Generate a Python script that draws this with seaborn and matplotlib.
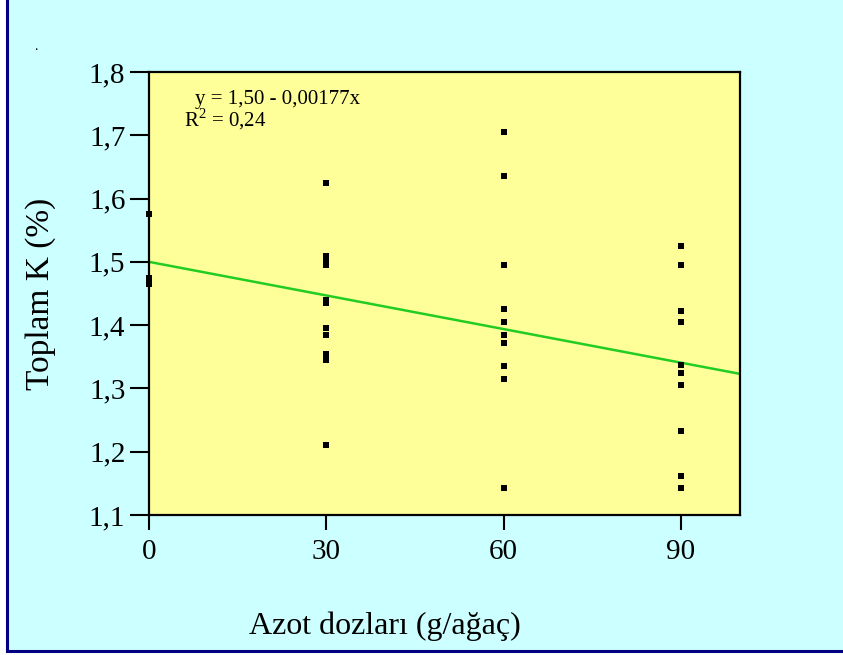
import matplotlib
matplotlib.use("Agg")
import matplotlib.pyplot as plt
import matplotlib.patches as mpatches
import seaborn as sns
import pandas as pd
import numpy as np

# Nitrogen doses (g/tree) and measured total K (%)
dose_0 = [1.575, 1.475, 1.465]
dose_30 = [1.625, 1.51, 1.50, 1.495, 1.44, 1.435, 1.395, 1.385, 1.355, 1.345, 1.21]
dose_60 = [1.705, 1.635, 1.495, 1.425, 1.405, 1.385, 1.372, 1.335, 1.315, 1.142]
dose_90 = [1.525, 1.495, 1.423, 1.405, 1.337, 1.325, 1.305, 1.232, 1.162, 1.142]
doses = [0, 30, 60, 90]

# Regression from the fitted equation
intercept = 1.50
slope = -0.00177
r_squared = 0.24
fit_x = [0, 100]

x_ticks = [0, 30, 60, 90]
y_ticks = [1.1, 1.2, 1.3, 1.4, 1.5, 1.6, 1.7, 1.8]
y_tick_labels = ["1,1", "1,2", "1,3", "1,4", "1,5", "1,6", "1,7", "1,8"]

groups = [dose_0, dose_30, dose_60, dose_90]
df = pd.DataFrame({
    "dose": np.concatenate([[d] * len(g) for d, g in zip(doses, groups)]),
    "k": np.concatenate(groups),
})
fit_df = pd.DataFrame({"dose": fit_x, "k": [intercept + slope * v for v in fit_x]})

sns.set_theme(style="ticks")
plt.rcParams["font.family"] = ["Liberation Serif", "DejaVu Serif"]
plt.rcParams["text.color"] = "black"
plt.rcParams["axes.labelcolor"] = "black"
plt.rcParams["mathtext.fontset"] = "custom"
plt.rcParams["mathtext.rm"] = "Liberation Serif"

W, H = 843, 655
fig = plt.figure(figsize=(W / 100, H / 100), dpi=100, facecolor="white")

# Cyan panel with navy frame, kept behind the axes
panel = mpatches.Rectangle((7 / W, 4 / H), 1.0, 1.0, transform=fig.transFigure,
                           facecolor="#CCFFFF", edgecolor="#000080", linewidth=2.2,
                           zorder=-10)
fig.patches.append(panel)

ax = fig.add_axes([149 / W, 1 - 515 / H, 591 / W, 443 / H])
ax.set_facecolor("#FFFF99")

sns.lineplot(data=fit_df, x="dose", y="k", ax=ax, color="#22CC22", linewidth=1.8,
             zorder=2)
sns.scatterplot(data=df, x="dose", y="k", ax=ax, marker="s", s=16, color="black",
                edgecolor="black", linewidth=0, zorder=3, clip_on=False)

ax.set_xlim(0, 100)
ax.set_ylim(1.1, 1.8)
ax.set_xticks(x_ticks)
ax.set_xticklabels([str(v) for v in x_ticks])
ax.set_yticks(y_ticks)
ax.set_yticklabels(y_tick_labels)

for side in ["left", "right", "top", "bottom"]:
    ax.spines[side].set_visible(True)
    ax.spines[side].set_color("black")
    ax.spines[side].set_linewidth(1.6)

ax.tick_params(axis="y", direction="out", length=14, width=1.5, labelsize=21,
               pad=3, colors="black")
ax.tick_params(axis="x", direction="out", length=11, width=1.5, labelsize=21,
               pad=6, colors="black")

ax.set_xlabel("")
ax.set_ylabel("")
fig.text(385 / W, 1 - 626 / H, "Azot dozları (g/ağaç)", fontsize=23,
         ha="center", va="center")
fig.text(41 / W, 1 - 294 / H, "Toplam K (%)", fontsize=24, rotation=90,
         ha="center", va="center")

ax.text(0.078, 0.96, "y = 1,50 - 0,00177x", transform=ax.transAxes,
        fontsize=15, va="top", ha="left")
ax.text(0.059, 0.922, r"R$^{2}$ = 0,24", transform=ax.transAxes,
        fontsize=15, va="top", ha="left")

fig.text(34 / W, 1 - 50 / H, ".", fontsize=10, ha="left", va="baseline")

fig.savefig("out.png", dpi=100, facecolor=fig.get_facecolor())
